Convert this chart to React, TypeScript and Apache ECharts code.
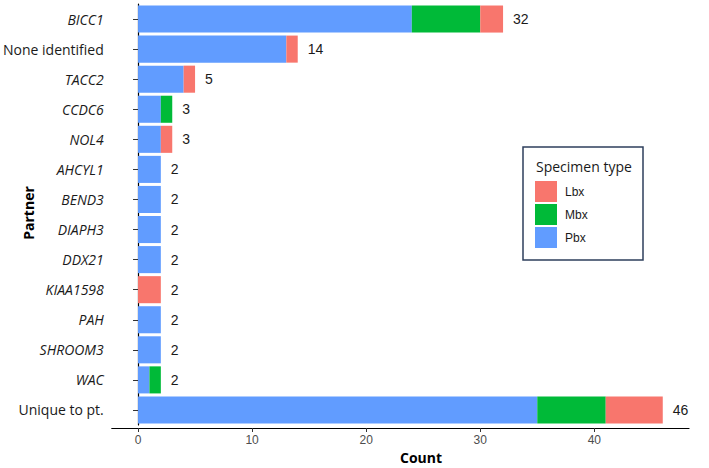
import React, { useEffect, useRef } from "react";
import * as echarts from "echarts";

const categories = [
  "BICC1", "None identified", "TACC2", "CCDC6", "NOL4", "AHCYL1", "BEND3",
  "DIAPH3", "DDX21", "KIAA1598", "PAH", "SHROOM3", "WAC", "Unique to pt.",
];
const italicCats = new Set([
  "BICC1", "TACC2", "CCDC6", "NOL4", "AHCYL1", "BEND3", "DIAPH3", "DDX21",
  "KIAA1598", "PAH", "SHROOM3", "WAC",
]);
const pbx = [24, 13, 4, 2, 2, 2, 2, 2, 2, 0, 2, 2, 1, 35];
const mbx = [6, 0, 0, 1, 0, 0, 0, 0, 0, 0, 0, 0, 1, 6];
const lbx = [2, 1, 1, 0, 1, 0, 0, 0, 0, 2, 0, 0, 0, 5];
const totals = categories.map((_, i) => pbx[i] + mbx[i] + lbx[i]);
const xTicks = [0, 10, 20, 30, 40];

const COLORS = { Lbx: "#F8766D", Mbx: "#00BA38", Pbx: "#619CFF" };
const SANS = "'Open Sans', 'Noto Sans', sans-serif";
const ARIAL = "'Liberation Sans', Arial, sans-serif";

export default function App() {
  const ref = useRef<HTMLDivElement>(null);
  useEffect(() => {
    if (!ref.current) return;
    const chart = echarts.init(ref.current, undefined, { renderer: "svg" });
    const gridTop = 4;
    const gridHeight = 421;
    chart.setOption({
      animation: false,
      backgroundColor: "#ffffff",
      grid: { left: 109.5, right: 20, top: gridTop, height: gridHeight, containLabel: false },
      xAxis: {
        type: "value",
        min: -2.3,
        max: 48.3,
        offset: 3,
        axisLine: { show: true, lineStyle: { color: "#000", width: 1.2 } },
        axisTick: { show: true, length: 4, customValues: xTicks, lineStyle: { color: "#333" } },
        axisLabel: {
          customValues: xTicks,
          color: "#4D4D4D",
          fontSize: 12,
          fontFamily: ARIAL,
          margin: 6,
        },
        splitLine: { show: false },
      },
      yAxis: {
        type: "category",
        inverse: true,
        data: categories,
        axisLine: { show: true, lineStyle: { color: "#000", width: 1.2 } },
        axisTick: { show: true, length: 5, alignWithLabel: true, lineStyle: { color: "#333" } },
        axisLabel: {
          margin: 8,
          formatter: (v: string) => (italicCats.has(v) ? `{i|${v}}` : `{n|${v}}`),
          rich: {
            i: { fontStyle: "italic", fontSize: 14, fontFamily: SANS, color: "#1A1A1A" },
            n: { fontSize: 14, fontFamily: SANS, color: "#1A1A1A" },
          },
        },
      },
      legend: {
        data: ["Lbx", "Mbx", "Pbx"],
        orient: "vertical",
        left: 535,
        top: 181,
        icon: "rect",
        itemWidth: 22,
        itemHeight: 21,
        itemGap: 2,
        padding: 0,
        textStyle: { fontSize: 12, fontFamily: ARIAL, color: "#1A1A1A", padding: [0, 0, 0, 3] },
        selectedMode: false,
      },
      series: [
        {
          name: "Pbx",
          type: "bar",
          stack: "total",
          data: pbx,
          barCategoryGap: "10%",
          itemStyle: { color: COLORS.Pbx },
        },
        {
          name: "Mbx",
          type: "bar",
          stack: "total",
          data: mbx,
          itemStyle: { color: COLORS.Mbx },
        },
        {
          name: "Lbx",
          type: "bar",
          stack: "total",
          data: lbx,
          itemStyle: { color: COLORS.Lbx },
          label: {
            show: true,
            position: "right",
            distance: 10,
            formatter: (p: any) => String(totals[p.dataIndex]),
            fontSize: 14,
            fontFamily: ARIAL,
            color: "#1A1A1A",
          },
        },
      ],
      graphic: [
        {
          type: "rect",
          shape: { x: 523, y: 147, width: 120, height: 113 },
          style: { fill: "none", stroke: "#2E3F5C", lineWidth: 1.5 },
          z: 10,
        },
        {
          type: "text",
          x: 536,
          y: 166,
          style: {
            text: "Specimen type",
            fontSize: 14,
            fontFamily: SANS,
            fill: "#1A1A1A",
            verticalAlign: "middle",
          },
          z: 10,
        },
        {
          type: "text",
          x: 421,
          y: 457,
          style: {
            text: "Count",
            fontSize: 14,
            fontWeight: "bold",
            fontFamily: SANS,
            fill: "#000",
            align: "center",
            verticalAlign: "middle",
          },
        },
        {
          type: "text",
          x: 28,
          y: 213,
          rotation: Math.PI / 2,
          style: {
            text: "Partner",
            fontSize: 14,
            fontWeight: "bold",
            fontFamily: SANS,
            fill: "#000",
            align: "center",
            verticalAlign: "middle",
          },
        },
      ],
    });
    return () => chart.dispose();
  }, []);
  return (
    <div
      ref={ref}
      style={{ position: "fixed", left: 0, top: 0, width: 709, height: 468 }}
    />
  );
}
